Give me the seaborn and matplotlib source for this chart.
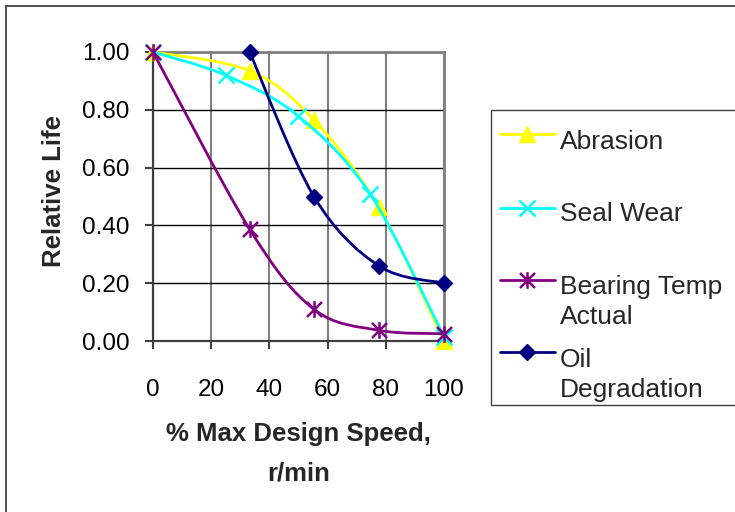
import numpy as np
import matplotlib
matplotlib.use("Agg")
import matplotlib.pyplot as plt
import seaborn as sns
from matplotlib.path import Path
from matplotlib.patches import PathPatch, Rectangle
from matplotlib.lines import Line2D

# ---- data ----
abrasion_x = [0, 33.2, 55.3, 77.6, 100]
abrasion_y = [1.00, 0.935, 0.765, 0.462, 0.0]
seal_x = [0, 25.1, 49.7, 74.6, 100]
seal_y = [1.00, 0.919, 0.780, 0.509, 0.015]
bearing_x = [0, 33.2, 55.3, 77.6, 100]
bearing_y = [1.00, 0.387, 0.110, 0.037, 0.025]
oil_x = [33.2, 55.3, 77.6, 100]
oil_y = [1.00, 0.50, 0.26, 0.20]
series_names = ["Abrasion", "Seal Wear", "Bearing Temp\nActual", "Oil\nDegradation"]
x_ticks = [0, 20, 40, 60, 80, 100]
y_ticks = [0.0, 0.2, 0.4, 0.6, 0.8, 1.0]
x_label = "% Max Design Speed,\nr/min"
y_label = "Relative Life"

sns.set_style("white")
plt.rcParams["font.family"] = ["Liberation Sans", "DejaVu Sans"]

W, H = 735, 512
fig = plt.figure(figsize=(W / 100, H / 100), dpi=100)
ax = fig.add_axes([153 / W, 1 - 341 / H, 291 / W, 289 / H])

# asterisk marker (vertical bar + X)
ast = Path([(0, -1), (0, 1), (-0.9, -0.9), (0.9, 0.9), (-0.9, 0.9), (0.9, -0.9)],
           [Path.MOVETO, Path.LINETO, Path.MOVETO, Path.LINETO, Path.MOVETO, Path.LINETO])

styles = [
    dict(color="#FFFF00", marker="^", ms=12, mew=1.0),
    dict(color="#00FFFF", marker="x", ms=11, mew=1.8),
    dict(color="#800080", marker=ast, ms=12, mew=1.8),
    dict(color="#000080", marker="D", ms=8, mew=1.0),
]
data = [(abrasion_x, abrasion_y), (seal_x, seal_y), (bearing_x, bearing_y), (oil_x, oil_y)]


def smooth_path(xs, ys):
    pts = np.column_stack([xs, ys]).astype(float)
    n = len(pts)
    verts = [pts[0]]
    codes = [Path.MOVETO]
    for i in range(n - 1):
        p0 = pts[i - 1] if i > 0 else pts[i]
        p1 = pts[i]
        p2 = pts[i + 1]
        p3 = pts[i + 2] if i + 2 < n else pts[i + 1]
        c1 = p1 + (p2 - p0) / 6.0
        c2 = p2 - (p3 - p1) / 6.0
        verts += [c1, c2, p2]
        codes += [Path.CURVE4] * 3
    return Path(verts, codes)


for k, ((xs, ys), st) in enumerate(zip(data, styles)):
    patch = PathPatch(smooth_path(xs, ys), facecolor="none", edgecolor=st["color"],
                      lw=2.0, zorder=3 + 2 * k, clip_on=False)
    ax.add_patch(patch)
    sns.lineplot(x=xs, y=ys, ax=ax, color=st["color"], marker=st["marker"],
                 markersize=st["ms"], markeredgecolor=st["color"], markerfacecolor=st["color"],
                 markeredgewidth=st["mew"], linestyle="", clip_on=False, zorder=4 + 2 * k)

ax.set_xlim(0, 100)
ax.set_ylim(0, 1)
ax.set_xticks(x_ticks)
ax.set_yticks(y_ticks)
ax.set_xticklabels([str(t) for t in x_ticks])
ax.set_yticklabels([f"{t:.2f}" for t in y_ticks])

ax.yaxis.grid(True, color="black", lw=1.0, zorder=1)
ax.xaxis.grid(True, color="#808080", lw=1.5, zorder=1)
ax.set_axisbelow(True)
for side in ["top", "right"]:
    ax.spines[side].set_color("#808080")
    ax.spines[side].set_linewidth(2.0)
for side in ["left", "bottom"]:
    ax.spines[side].set_color("#404040")
    ax.spines[side].set_linewidth(1.6)

ax.tick_params(axis="both", direction="out", length=6, width=1.5, color="#404040",
               labelsize=17.5, labelcolor="black", left=True, bottom=True)
ax.tick_params(axis="x", pad=21)
ax.tick_params(axis="y", pad=11)

ax.set_ylabel(y_label, fontsize=18.5, fontweight="bold")
ax.yaxis.set_label_coords(-0.30, 0.52)
ax.set_xlabel(x_label, fontsize=18.5, fontweight="bold", linespacing=1.8)
ax.xaxis.set_label_coords(0.5, -0.28)

# ---- legend drawn in figure pixels ----
def fx(px):
    return px / W


def fy(py):
    return 1 - py / H


fig.add_artist(Rectangle((fx(491), fy(405)), fx(760) - fx(491), fy(110) - fy(405),
                         transform=fig.transFigure, facecolor="white",
                         edgecolor="#404040", lw=1.0))
handle_y = [134, 208, 280, 352]
text_baselines = [[149], [221], [294, 324], [367, 397]]
for name, st, hy, bls in zip(series_names, styles, handle_y, text_baselines):
    fig.add_artist(Line2D([fx(500), fx(555)], [fy(hy), fy(hy)], transform=fig.transFigure,
                          color=st["color"], lw=2.0))
    fig.add_artist(Line2D([fx(527)], [fy(hy)], transform=fig.transFigure, color=st["color"],
                          marker=st["marker"], ms=st["ms"], mew=st["mew"],
                          markeredgecolor=st["color"], markerfacecolor=st["color"], linestyle=""))
    for line, bl in zip(name.split("\n"), bls):
        fig.text(fx(560), fy(bl), line, fontsize=19, va="baseline", ha="left")

# outer frame (left and top edges visible)
fig.add_artist(Line2D([fx(5.5), fx(5.5)], [0, fy(5.5)], transform=fig.transFigure,
                      color="#333333", lw=1.2))
fig.add_artist(Line2D([fx(5.5), 1], [fy(5.5), fy(5.5)], transform=fig.transFigure,
                      color="#333333", lw=1.2))

fig.savefig("out.png", dpi=100)
